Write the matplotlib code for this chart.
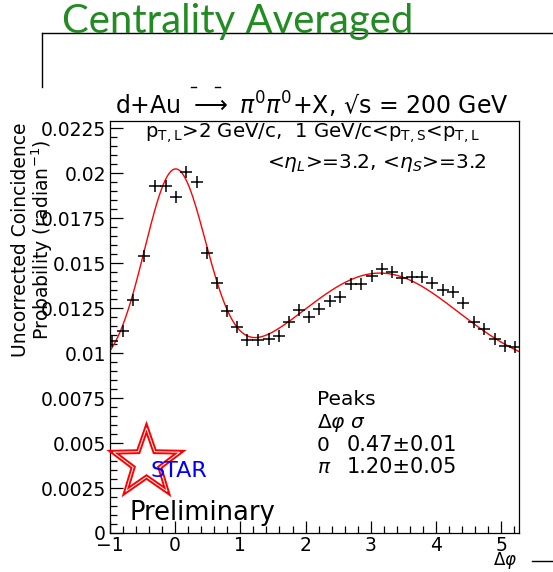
import numpy as np
import matplotlib
matplotlib.use("Agg")
import matplotlib.pyplot as plt
from matplotlib.lines import Line2D
from matplotlib.patches import Polygon
from matplotlib.ticker import MultipleLocator, FuncFormatter

# delta phi bin centres (radian) and uncorrected coincidence probability
dphi = [-0.974, -0.796, -0.643, -0.474, -0.310, -0.146, 0.012, 0.166, 0.330, 0.483,
        0.637, 0.790, 0.943, 1.106, 1.275, 1.443, 1.597, 1.745, 1.899, 2.057,
        2.210, 2.374, 2.528, 2.692, 2.850, 3.014, 3.167, 3.321, 3.474, 3.627,
        3.790, 3.934, 4.103, 4.265, 4.419, 4.583, 4.741, 4.905, 5.058, 5.212]
prob = [0.01068, 0.01123, 0.01296, 0.01542, 0.01930, 0.01926, 0.01865, 0.02006, 0.01952, 0.01559,
        0.01389, 0.01235, 0.01147, 0.01073, 0.01073, 0.01077, 0.01096, 0.01172, 0.01240, 0.01203,
        0.01244, 0.01292, 0.01311, 0.01385, 0.01385, 0.01430, 0.01467, 0.01448, 0.01417, 0.01422,
        0.01425, 0.01389, 0.01351, 0.01339, 0.01278, 0.01175, 0.01135, 0.01079, 0.01042, 0.01036]

# peak widths from the fit
peak_pos = [0.0, np.pi]
peak_sigma = [0.47, 1.20]
peak_labels = ["0", r"$\pi$"]
peak_text = ["0.47\u00b10.01", "1.20\u00b10.05"]

W, H = 553, 572


def fx(x):
    return x / W


def fy(y):
    return 1 - y / H


def gauss(x, mu, sig):
    return np.exp(-(x - mu) ** 2 / (2 * sig ** 2))


plt.rcParams["font.family"] = ["DejaVu Sans"]
plt.rcParams["mathtext.fontset"] = "dejavusans"

fig = plt.figure(figsize=(W / 100, H / 100), dpi=100)
ax = fig.add_axes([fx(110), fy(533), fx(519) - fx(110), fy(121) - fy(533)])

x = np.array(dphi)
y = np.array(prob)

# constant + two gaussians, widths fixed, amplitudes from least squares
A = np.column_stack([np.ones_like(x)] + [gauss(x, m, s) for m, s in zip(peak_pos, peak_sigma)])
coef, *_ = np.linalg.lstsq(A, y, rcond=None)
xs = np.linspace(-1, 2 * np.pi - 1, 400)
ys = coef[0] + sum(c * gauss(xs, m, s) for c, m, s in zip(coef[1:], peak_pos, peak_sigma))

ax.plot(xs, ys, color="red", lw=1.0)
ax.plot(x, y, ls="none", marker="+", color="black", ms=9, mew=1.1)

ax.set_xlim(-1, 5.275)
ax.set_ylim(0, 0.0229)
ax.xaxis.set_major_locator(MultipleLocator(1))
ax.xaxis.set_minor_locator(MultipleLocator(0.2))
ax.yaxis.set_major_locator(MultipleLocator(0.0025))
ax.yaxis.set_minor_locator(MultipleLocator(0.0005))
ax.yaxis.set_major_formatter(FuncFormatter(lambda v, p: "%g" % round(v, 6)))
ax.tick_params(which="both", direction="in", top=False, right=False, labelsize=13.5, width=0.9)
ax.tick_params(which="major", length=9)
ax.tick_params(which="minor", length=5)
ax.tick_params(axis="y", pad=3)
ax.tick_params(axis="x", pad=2)
for s in ax.spines.values():
    s.set_linewidth(0.9)

# y axis title, two lines
fig.text(fx(33), fy(240), "Uncorrected Coincidence\nProbability (radian$^{-1}$)",
         rotation=90, ha="center", va="center", multialignment="center",
         fontsize=13.5, linespacing=0.95)
fig.text(fx(505), fy(565), r"$\Delta\varphi$", ha="center", va="baseline", fontsize=12)

# slide header
fig.text(fx(62), fy(33), "Centrality Averaged", family=["Lato", "DejaVu Sans"],
         fontsize=28.8, color="#228b22", ha="left", va="baseline")
frame_lines = [([42, 553], [33, 33]), ([42, 42], [33, 87]), ([532, 553], [561, 561]),
               ([191, 196], [87, 87]), ([215, 220], [87, 87])]
for lx, ly in frame_lines:
    fig.add_artist(Line2D([fx(v) for v in lx], [fy(v) for v in ly], color="black", lw=1,
                          transform=fig.transFigure))

# plot titles
fig.text(fx(312), fy(115), r"d+Au $\longrightarrow$ $\pi^0\pi^0$+X, √s = 200 GeV",
         ha="center", va="baseline", fontsize=17)
fig.text(fx(313), fy(138), r"$\mathregular{p_{T,L}}$>2 GeV/c,  1 GeV/c<$\mathregular{p_{T,S}}$<$\mathregular{p_{T,L}}$",
         ha="center", va="baseline", fontsize=14.2)
fig.text(fx(377), fy(168), r"<$\eta_L$>=3.2, <$\eta_S$>=3.2",
         ha="center", va="baseline", fontsize=14.5)

# fit summary
fig.text(fx(317), fy(405), "Peaks", ha="left", va="baseline", fontsize=14.5)
fig.text(fx(317), fy(428), r"$\Delta\varphi$", ha="left", va="baseline", fontsize=14.5)
fig.text(fx(350), fy(428), r"$\sigma$", ha="left", va="baseline", fontsize=14.5)
for i, (lab, txt) in enumerate(zip(peak_labels, peak_text)):
    base = 451 + 22 * i
    fig.text(fx(317), fy(base), lab, ha="left", va="baseline", fontsize=14.5)
    fig.text(fx(347), fy(base), txt, ha="left", va="baseline", fontsize=15)

# STAR logo
cx, cy, r_out, r_in = 1.465, (H - 463) / 100, 0.35, 0.14
ang = np.deg2rad(90 + 36 * np.arange(10))
rad = np.where(np.arange(10) % 2 == 0, r_out, r_in)
star = np.column_stack([cx + rad * np.cos(ang), cy + rad * np.sin(ang)])
fig.add_artist(Polygon(star, closed=True, fill=False, edgecolor="red", lw=3.5,
                       transform=fig.dpi_scale_trans))
fig.add_artist(Polygon(star, closed=True, fill=False, edgecolor="white", lw=0.7,
                       transform=fig.dpi_scale_trans))
fig.text(fx(150), fy(477), "STAR", color="blue", ha="left", va="baseline", fontsize=16)
fig.text(fx(130), fy(520), "Preliminary", ha="left", va="baseline", fontsize=18.5)

fig.savefig("out.png", dpi=100)
